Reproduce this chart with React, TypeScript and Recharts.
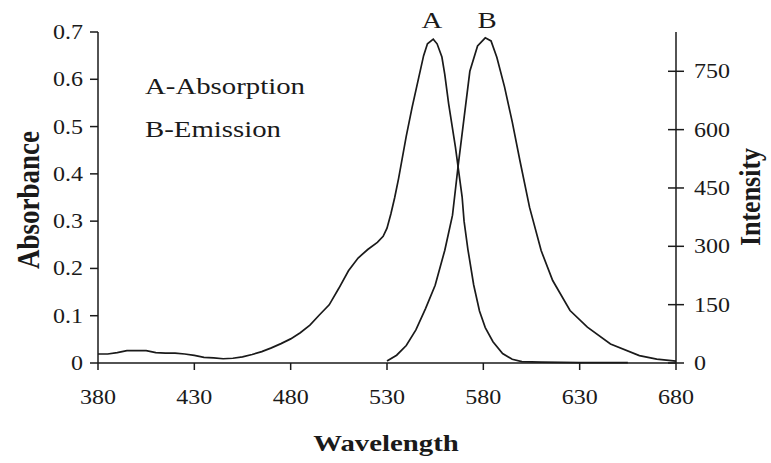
import { LineChart, Line, XAxis, YAxis } from 'recharts';

// A - absorption (left axis)
const absWavelength = [
  380, 385, 390, 395, 400, 405, 410, 415, 420, 425, 430, 435, 440, 445, 450, 455, 460, 465, 470,
  475, 480, 485, 490, 495, 500, 505, 510, 515, 520, 525, 528, 530, 532, 534, 536, 540, 543, 546,
  549, 551, 554, 556, 558.5, 560, 562, 565.5, 569, 570, 572, 575, 578, 581, 585, 590, 595, 600,
  610, 630, 655,
];
const absorbance = [
  0.019, 0.019, 0.022, 0.026, 0.026, 0.026, 0.022, 0.021, 0.021, 0.019, 0.016, 0.012, 0.011, 0.009,
  0.01, 0.013, 0.018, 0.024, 0.032, 0.041, 0.051, 0.064, 0.08, 0.102, 0.123, 0.158, 0.195, 0.222,
  0.24, 0.255, 0.268, 0.285, 0.315, 0.35, 0.39, 0.48, 0.54, 0.595, 0.65, 0.675, 0.685, 0.675,
  0.647, 0.61, 0.548, 0.457, 0.351, 0.3, 0.24, 0.165, 0.11, 0.075, 0.045, 0.02, 0.008, 0.003,
  0.002, 0.001, 0.001,
];

// B - emission (right axis)
const emWavelength = [
  530, 535, 540, 545, 550, 555, 560, 564, 567, 570, 573, 577, 581, 584, 587, 591, 595, 599, 604,
  610, 616, 625, 634, 646, 661, 670, 680,
];
const intensity = [
  5, 20, 45, 85, 140, 200, 290, 380, 510, 630, 750, 815, 836, 828, 786, 710, 620, 520, 400, 289,
  212, 135, 92, 49, 19, 10, 5,
];

const xTicks = [380, 430, 480, 530, 580, 630, 680];
const absTicks = [0, 0.1, 0.2, 0.3, 0.4, 0.5, 0.6, 0.7];
const intTicks = [0, 150, 300, 450, 600, 750];

const absData = absWavelength.map((wl, i) => ({ wl, a: absorbance[i] }));
const emData = emWavelength.map((wl, i) => ({ wl, b: intensity[i] }));

const INK = '#1a1a1a';
const FONT = '"Liberation Serif", "Times New Roman", serif';
const SX = 1.2; // the picture is a bit stretched sideways

const TickText = ({ x, y, payload, anchor, dy }: any) => (
  <g transform={`translate(${x},${y})`}>
    <text transform={`scale(${SX},1)`} textAnchor={anchor} dy={dy} fontSize={20} fontFamily={FONT} fill={INK}>
      {payload.value}
    </text>
  </g>
);

const RightTick = ({ x, y, payload }: any) => (
  <g transform={`translate(${x},${y})`}>
    <line x1={-26} x2={-10} y1={0} y2={0} stroke={INK} strokeWidth={1.5} />
    <text transform={`scale(${SX},1)`} textAnchor="start" dy="0.35em" fontSize={20} fontFamily={FONT} fill={INK}>
      {payload.value}
    </text>
  </g>
);

export default function App() {
  return (
    <div style={{ position: 'absolute', left: 0, top: 0, background: '#fff' }}>
      <LineChart width={771} height={463} margin={{ top: 32, right: 0, bottom: 0, left: 0 }}>
        <XAxis
          dataKey="wl"
          type="number"
          domain={[380, 680]}
          ticks={xTicks}
          allowDataOverflow
          height={100}
          stroke={INK}
          strokeWidth={1.5}
          tickSize={7}
          tickMargin={20}
          tick={<TickText anchor="middle" dy="0.71em" />}
        />
        <YAxis
          yAxisId="left"
          domain={[0, 0.7]}
          ticks={absTicks}
          width={98}
          stroke={INK}
          strokeWidth={1.5}
          tickSize={8}
          tickMargin={7}
          tick={<TickText anchor="end" dy="0.35em" />}
        />
        <YAxis
          yAxisId="right"
          orientation="right"
          domain={[0, 851]}
          ticks={intTicks}
          width={95}
          stroke={INK}
          strokeWidth={1.5}
          tickLine={false}
          tickSize={0}
          tickMargin={18}
          tick={<RightTick />}
        />
        <Line
          yAxisId="left"
          data={absData}
          dataKey="a"
          type="linear"
          stroke={INK}
          strokeWidth={1.7}
          dot={false}
          isAnimationActive={false}
        />
        <Line
          yAxisId="right"
          data={emData}
          dataKey="b"
          type="linear"
          stroke={INK}
          strokeWidth={1.7}
          dot={false}
          isAnimationActive={false}
        />
        <g fontFamily={FONT} fill={INK}>
          <text transform={`translate(28,200) rotate(-90) scale(1,${SX})`} textAnchor="middle" dy="0.35em" fontSize={27} fontWeight="bold">
            Absorbance
          </text>
          <text transform={`translate(751,197) rotate(-90) scale(1,1.1)`} textAnchor="middle" dy="0.3em" fontSize={26} fontWeight="bold">
            Intensity
          </text>
          <text transform={`translate(386,451) scale(${SX},1)`} textAnchor="middle" fontSize={24} fontWeight="bold">
            Wavelength
          </text>
          <text transform={`translate(145,94) scale(${SX},1)`} fontSize={24}>
            A-Absorption
          </text>
          <text transform={`translate(145,137) scale(${SX},1)`} fontSize={24}>
            B-Emission
          </text>
          <text transform={`translate(432,28) scale(${SX},1)`} textAnchor="middle" fontSize={24}>
            A
          </text>
          <text transform={`translate(487,28) scale(${SX},1)`} textAnchor="middle" fontSize={24}>
            B
          </text>
        </g>
      </LineChart>
    </div>
  );
}
